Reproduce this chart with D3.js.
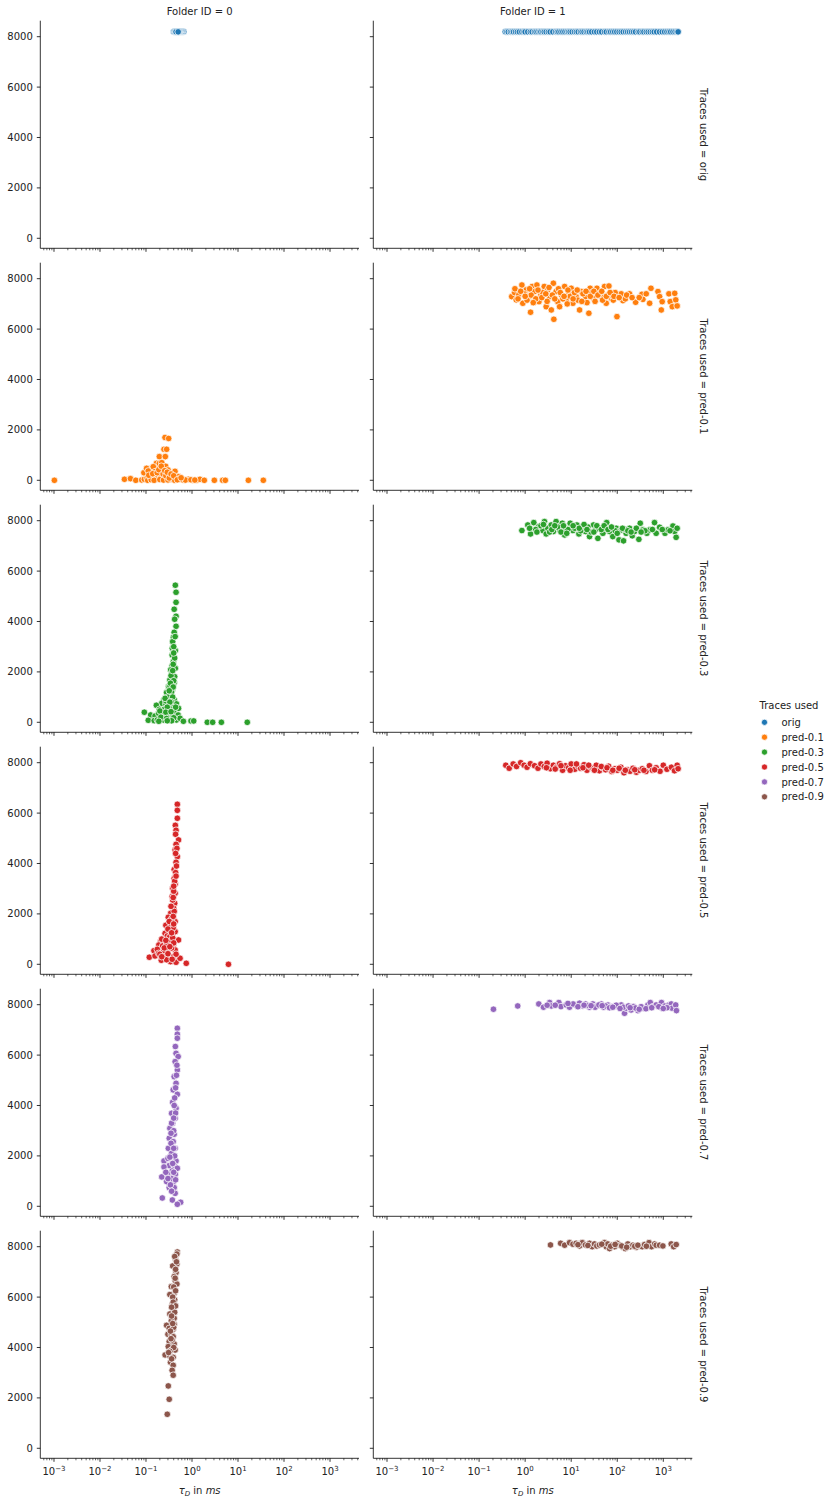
<!DOCTYPE html>
<html><head><meta charset="utf-8">
<script src="https://cdn.jsdelivr.net/npm/d3@7"></script>
<style>body{margin:0;background:#fff}text{font-family:"DejaVu Sans",sans-serif}</style>
</head><body>
<script>
// ---------- data ----------
const folders = ["0", "1"];
const traces = ["orig", "pred-0.1", "pred-0.3", "pred-0.5", "pred-0.7", "pred-0.9"];
const colors = ["#1f77b4", "#ff7f0e", "#2ca02c", "#d62728", "#9467bd", "#8c564b"];
const xTicks = [1e-3, 1e-2, 1e-1, 1, 10, 100, 1000];
const xTickExp = ["−3", "−2", "−1", "0", "1", "2", "3"];
const yTicks = [0, 2000, 4000, 6000, 8000];

// [tau_D in ms, value]
const orig_f0 = [[0.40,8192],[0.66,8192],[0.42,8192],[0.62,8192],[0.44,8192],[0.59,8192],[0.46,8192],[0.56,8192],[0.47,8192],[0.54,8192],[0.53,8192],[0.49,8192],[0.45,8192],[0.51,8192],[0.50,8192]];
const orig_f1 = [[0.37,8192],[0.40,8192],[0.43,8192],[0.48,8192],[0.52,8192],[0.56,8192],[0.62,8192],[0.68,8192],[0.75,8192],[0.85,8192],[0.94,8192],[1.0,8192],[1.14,8192],[1.3,8192],[1.42,8192],[1.6,8192],[1.73,8192],[1.9,8192],[2.08,8192],[2.2,8192],[2.42,8192],[2.6,8192],[2.86,8192],[3.2,8192],[3.5,8192],[4.0,8192],[4.6,8192],[5.0,8192],[5.4,8192],[6.0,8192],[6.6,8192],[7.3,8192],[8.1,8192],[8.8,8192],[9.5,8192],[10.5,8192],[11.8,8192],[13,8192],[14.2,8192],[16,8192],[17.3,8192],[19,8192],[21.2,8192],[23,8192],[25,8192],[28,8192],[32,8192],[36,8192],[41,8192],[46,8192],[53,8192],[58,8192],[66,8192],[72,8192],[80,8192],[88,8192],[98,8192],[110,8192],[122,8192],[135,8192],[152,8192],[168,8192],[185,8192],[205,8192],[226,8192],[250,8192],[286,8192],[310,8192],[349,8192],[380,8192],[427,8192],[470,8192],[522,8192],[580,8192],[637,8192],[720,8192],[832,8192],[950,8192],[1069,8192],[1200,8192],[1328,8192],[1450,8192],[1622,8192],[1800,8192],[1982,8192],[2100,8192]];
const pred01_f0 = [[0.00102,0],[0.034,40],[0.046,66],[0.060,0],[0.081,13],[0.092,40],[0.105,80],[0.109,0],[0.122,145],[0.133,475],[0.146,540],[0.16,340],[0.17,53],[0.168,670],[0.18,475],[0.195,940],[0.195,670],[0.22,700],[0.21,145],[0.23,475],[0.246,1230],[0.25,277],[0.259,1700],[0.263,940],[0.268,555],[0.281,1230],[0.28,53],[0.301,410],[0.311,1660],[0.333,210],[0.36,40],[0.427,356],[0.45,80],[0.513,145],[0.55,40],[0.67,0],[0.83,40],[1.03,0],[1.26,0],[1.49,40],[1.85,0],[3.06,0],[4.64,0],[5.3,0],[16.8,0],[35.5,0],[0.09,300],[0.103,475],[0.112,370],[0.144,540],[0.157,343],[0.13,20],[0.15,0],[0.2,30],[0.24,10],[0.3,15],[0.38,100],[0.42,0],[0.62,20],[0.72,10],
  [0.115,200],[0.14,260],[0.175,300],[0.19,420],[0.215,560],[0.235,250],[0.255,380],[0.27,180],[0.29,320],[0.32,90],[0.35,250],[0.4,180],[0.48,20],[0.58,100],[0.95,20],[1.15,10]];
const pred01_f1 = [[0.51,7290],[0.59,7450],[0.64,7160],[0.73,7360],[0.85,7750],[0.89,7025],[1.05,7555],[1.2,7290],[1.31,6670],[1.42,7690],[1.6,7490],[1.8,7750],[2.0,7090],[2.2,7360],[2.6,7690],[2.86,6890],[3.1,7555],[3.4,7290],[3.7,6760],[4.1,7820],[4.2,6390],[4.7,7490],[5.1,7090],[5.6,6890],[6.1,7360],[7.2,7690],[7.8,7160],[8.9,7420],[10.0,7620],[10.9,7025],[12.8,7290],[15.2,6760],[16.5,7490],[20.4,7290],[24.2,6630],[25.8,7620],[30.5,7225],[36.2,7620],[44.8,7290],[53,7690],[57.6,7025],[66,7710],[74,7225],[98.6,6495],[100,7360],[122,7400],[133,7130],[185,7400],[251,7065],[343,7380],[361,7180],[426,7400],[505,7025],[540,7620],[766,7490],[832,7290],[905,6760],[946,7090],[1325,7400],[1415,7090],[1567,6890],[1770,7420],[1866,7160],[2000,6920],
  [0.7,7200],[0.95,7400],[1.1,7150],[1.35,7350],[1.7,7200],[2.4,7450],[3.0,7100],[3.9,7350],[5.3,7600],[6.6,7200],[8.2,7000],[9.5,7300],[11.8,7450],[14,7150],[18,7400],[22,7050],[28,7450],[33,7100],[40,7400],[48,7150],[62,7350],[82,7150],[90,7450],[150,7200],
  [0.6,7600],[0.8,7500],[1.0,7300],[1.25,7600],[1.5,7050],[1.9,7550],[2.3,7250],[2.8,7400],[3.3,7650],[4.4,7200],[5.8,7450],[7.0,7300],[8.5,7550],[11,7200],[13.5,7550],[17,7100],[21,7500],[26,7300],[31,7500],[38,7350],[46,7500],[58,7300],[70,7450],[85,7300],[110,7250],[160,7350],[210,7250],[300,7250]];
const pred03_f0 = [[0.434,5440],[0.45,5160],[0.45,4760],[0.41,4485],[0.45,4210],[0.42,4090],[0.45,3810],[0.41,3570],[0.394,3375],[0.38,3200],[0.373,2940],[0.434,2845],[0.37,2670],[0.394,2420],[0.37,2250],[0.344,2080],[0.434,2140],[0.36,1945],[0.42,1810],[0.33,1680],[0.41,1575],[0.31,1415],[0.38,1310],[0.28,1180],[0.344,1125],[0.246,890],[0.31,910],[0.41,890],[0.22,755],[0.27,730],[0.36,690],[0.46,730],[0.168,675],[0.195,515],[0.25,515],[0.32,555],[0.41,385],[0.51,555],[0.092,400],[0.126,290],[0.157,250],[0.188,355],[0.24,355],[0.3,250],[0.38,225],[0.5,290],[0.112,80],[0.151,66],[0.176,93],[0.24,93],[0.33,120],[0.46,93],[0.55,160],[0.65,40],[0.95,53],[1.09,53],[2.15,0],[2.81,0],[4.35,0],[15.9,0],
  [0.4,3000],[0.42,2550],[0.39,2300],[0.35,1850],[0.4,1650],[0.33,1450],[0.36,1200],[0.3,1000],[0.38,1000],[0.27,850],[0.35,820],
  [0.43,3400],[0.4,2750],[0.38,2050],[0.34,1550],[0.39,1400],[0.32,1250],[0.26,950],[0.33,800],[0.29,600],[0.44,600],[0.2,450],[0.27,400],[0.35,420],[0.21,200],[0.28,150],[0.4,180],[0.36,60],[0.19,40],[0.29,60]];
const pred03_f1 = [[0.85,7610],[1.14,7830],[1.31,7475],[1.54,7925],[1.98,7765],[2.42,7610],[2.63,7965],[2.86,7475],[3.1,7700],[3.68,7830],[4.1,7570],[4.7,7965],[5.6,7634],[6.4,7900],[7.2,7435],[7.5,7700],[9.5,7900],[10.9,7610],[13.3,7830],[14.7,7475],[17.9,7765],[20.4,7570],[25,7370],[30.5,7830],[38,7300],[41,7700],[48.8,7500],[59,7925],[68,7570],[80,7370],[95,7700],[109,7240],[122,7634],[137,7200],[156,7500],[185,7700],[212,7400],[237,7570],[295,7260],[316,7900],[361,7634],[440,7500],[505,7634],[645,7925],[700,7500],[832,7740],[1090,7500],[1260,7634],[1620,7790],[1770,7570],[1900,7340],[2000,7700],
  [1.7,7650],[2.2,7800],[3.4,7550],[5.1,7750],[6.0,7550],[8.5,7650],[12,7700],[16,7600],[23,7750],[27,7550],[34,7650],[55,7700],[90,7600],[150,7650],[260,7700],[400,7600],[580,7650],[950,7650],[1400,7600],
  [1.25,7700],[1.8,7550],[2.5,7850],[3.8,7650],[4.4,7800],[6.8,7800],[8.0,7500],[11,7800],[15,7700],[19,7850],[22,7650],[31,7550],[36,7800],[45,7650],[52,7800],[63,7650],[75,7750],[100,7500],[130,7700],[170,7600],[200,7550],[330,7550]];
const pred05_f0 = [[0.48,6350],[0.48,6110],[0.48,5795],[0.434,5515],[0.45,5320],[0.44,5160],[0.51,4935],[0.45,4760],[0.43,4540],[0.48,4270],[0.45,4050],[0.41,3760],[0.44,3640],[0.41,3410],[0.43,3190],[0.38,3015],[0.43,2820],[0.37,2685],[0.42,2420],[0.40,2220],[0.344,2025],[0.305,1865],[0.43,1695],[0.27,1550],[0.355,1550],[0.26,1230],[0.344,1335],[0.43,1295],[0.29,1125],[0.208,900],[0.32,885],[0.46,965],[0.51,965],[0.19,765],[0.23,728],[0.3,540],[0.39,728],[0.149,540],[0.176,595],[0.24,515],[0.43,570],[0.118,280],[0.157,330],[0.188,435],[0.215,160],[0.26,305],[0.33,280],[0.34,105],[0.45,80],[0.55,240],[0.75,40],[6.2,0],
  [0.46,3900],[0.42,3300],[0.4,2900],[0.38,2550],[0.41,2100],[0.36,1800],[0.39,1450],[0.33,1100],[0.38,1050],[0.28,800],[0.36,650],[0.2,400],[0.28,180],[0.39,300],
  [0.47,4600],[0.44,4400],[0.45,3500],[0.4,3100],[0.39,2650],[0.35,2300],[0.39,1900],[0.32,1700],[0.4,1600],[0.3,1400],[0.36,1250],[0.22,1000],[0.27,950],[0.4,850],[0.25,650],[0.33,700],[0.45,400],[0.22,300],[0.3,420],[0.37,200]];
const pred05_f1 = [[0.38,7900],[0.45,7780],[0.55,7950],[0.65,7850],[0.8,8000],[0.95,7900],[1.1,7820],[1.3,7960],[1.6,7880],[1.9,7780],[2.2,7950],[2.6,7850],[3.0,7980],[3.5,7760],[4.1,7900],[4.8,7820],[5.6,7960],[6.5,7700],[7.5,7880],[8.8,7800],[10,7950],[12,7740],[14,7860],[16,7780],[19,7920],[22,7700],[26,7830],[30,7760],[35,7900],[41,7680],[48,7800],[56,7720],[65,7860],[76,7650],[88,7760],[100,7700],[120,7820],[140,7600],[165,7720],[190,7660],[220,7780],[260,7620],[300,7700],[350,7760],[420,7650],[500,7880],[580,7700],[700,7800],[850,7660],[1000,7900],[1200,7740],[1500,7820],[1750,7680],[2000,7900],[2100,7760],
  [2.9,7800],[4.5,7750],[6.0,7880],[9.5,7700],[13,7950],[18,7800],[24,7900],[32,7700],[45,7850],[60,7800],[80,7700],[110,7780],[150,7700],[240,7720],[380,7700],[650,7720]];
const pred07_f0 = [[0.48,7065],[0.48,6830],[0.48,6670],[0.435,6340],[0.45,6070],[0.5,5940],[0.43,5740],[0.48,5410],[0.41,5145],[0.45,4880],[0.39,4620],[0.48,4445],[0.38,4130],[0.45,3890],[0.36,3690],[0.43,3490],[0.38,3295],[0.33,3095],[0.41,2860],[0.32,2700],[0.39,2565],[0.306,2300],[0.43,2300],[0.36,2100],[0.246,1800],[0.45,1800],[0.32,1615],[0.246,1560],[0.41,1615],[0.48,1510],[0.22,1165],[0.32,1245],[0.435,1270],[0.28,980],[0.39,950],[0.32,740],[0.41,740],[0.43,515],[0.226,330],[0.374,250],[0.567,160],[0.48,80],
  [0.46,5200],[0.42,4300],[0.44,3700],[0.36,3300],[0.4,3000],[0.35,2500],[0.42,2000],[0.3,1900],[0.37,1400],[0.29,1300],[0.36,1100],[0.34,850],
  [0.47,5600],[0.44,4700],[0.41,4000],[0.4,3500],[0.35,2900],[0.4,2300],[0.33,1950],[0.38,1700],[0.27,1350],[0.4,1350],[0.3,1100],[0.44,1050],[0.36,600]];
const pred07_f1 = [[0.205,7820],[0.69,7950],[1.98,8030],[2.5,7900],[3.4,8085],[3.7,7950],[5.4,8085],[6.0,7925],[7.8,7990],[9.2,7900],[12.4,7990],[15.2,8060],[17.9,7950],[20.4,8030],[25,7900],[29.5,8030],[36,7950],[44.8,8030],[50.5,7900],[62.6,7990],[74,7925],[87.5,7950],[109,7900],[122,7990],[144,7660],[156,7860],[200,7790],[225,7925],[281,7765],[373,7860],[464,7990],[522,8085],[596,7925],[700,7990],[915,8085],[946,7860],[1090,7950],[1325,7990],[1490,8030],[1560,7860],[1860,7990],[1930,7765],
  [4.5,7980],[11,8030],[14,7920],[23,7970],[33,7900],[40,7990],[56,7950],[68,7880],[95,7980],[135,7900],[175,7950],[250,7870],[330,7920],[420,7840],[800,7920],[1200,7880],
  [3.0,7980],[8.5,8050],[19,7980],[27,7960],[47,7960],[80,7900],[115,7850],[190,7880],[300,7820],[560,7880],[1000,7850]];
const pred09_f0 = [[0.48,7790],[0.47,7710],[0.44,7500],[0.42,7610],[0.47,7315],[0.38,7235],[0.45,6970],[0.41,6815],[0.43,6655],[0.355,6415],[0.47,6520],[0.41,6150],[0.33,6100],[0.42,5890],[0.37,5690],[0.39,5515],[0.33,5330],[0.41,5160],[0.355,5055],[0.28,4880],[0.41,4920],[0.32,4760],[0.39,4725],[0.3,4525],[0.355,4500],[0.39,4430],[0.32,4235],[0.41,4140],[0.305,4035],[0.36,3900],[0.43,3900],[0.26,3705],[0.33,3665],[0.39,3610],[0.34,3415],[0.39,3295],[0.37,3095],[0.39,2900],[0.305,2475],[0.32,1945],[0.29,1350],
  [0.44,7100],[0.4,6400],[0.44,6250],[0.38,6000],[0.42,5400],[0.36,5250],[0.4,4800],[0.34,4650],[0.37,4300],[0.4,4000],[0.33,3850],
  [0.46,7400],[0.43,6750],[0.39,5800],[0.44,5650],[0.36,5600],[0.38,4950],[0.35,4350],[0.31,3800],[0.36,3550]];
const pred09_f1 = [[3.55,8070],[5.9,8135],[7.2,8060],[9.2,8160],[10.9,8100],[12.8,8135],[15.2,8030],[17.4,8160],[20.4,8070],[25,8135],[28.6,8000],[32,8110],[36,8030],[41,8070],[53,8160],[57.6,8000],[62.6,8110],[68,7925],[78,8070],[87.5,8000],[100,8135],[116,8060],[133,7975],[149,7925],[170,8110],[192,8000],[219,8060],[259,7975],[305,8030],[349,8000],[392,8085],[490,8160],[556,8000],[650,8110],[700,8060],[832,8060],[980,8030],[1485,8110],[1680,8000],[1910,8085],
  [14,8080],[23,8050],[46,8100],[72,8020],[90,8090],[125,8030],[160,7980],[240,8020],[280,8060],[430,8020]];

const panels = [
  [orig_f0, orig_f1],
  [pred01_f0, pred01_f1],
  [pred03_f0, pred03_f1],
  [pred05_f0, pred05_f1],
  [pred07_f0, pred07_f1],
  [pred09_f0, pred09_f1]
];

// ---------- layout ----------
const W = 832, H = 1504;
const colX = [[40.3, 359], [373.3, 692.3]];
const rowTop0 = 20.7, rowStep = 242, rowH = 227.6;
const xDomain = [5.04e-4, 4266];
const yDomain = [-397, 8635];
const txt = "#222";

const svg = d3.select("body").append("svg").attr("width", W).attr("height", H);

function minorTicks() {
  const out = [];
  for (let e = -4; e <= 3; e++) for (let m = 2; m <= 9; m++) {
    const v = m * Math.pow(10, e);
    if (v >= xDomain[0] && v <= xDomain[1]) out.push(v);
  }
  return out;
}
const minors = minorTicks();

traces.forEach((tr, r) => {
  const top = rowTop0 + r * rowStep, bottom = top + rowH;
  const y = d3.scaleLinear().domain(yDomain).range([bottom, top]);
  folders.forEach((f, c) => {
    const [x0, x1] = colX[c];
    const x = d3.scaleLog().domain(xDomain).range([x0, x1]);
    const g = svg.append("g");
    // points
    g.append("g").selectAll("circle").data(panels[r][c]).join("circle")
      .attr("cx", d => x(d[0])).attr("cy", d => y(d[1])).attr("r", 3.3)
      .attr("fill", colors[r]).attr("stroke", "#fff").attr("stroke-width", 0.75);
    // spines
    g.append("line").attr("x1", x0).attr("x2", x0).attr("y1", top).attr("y2", bottom)
      .attr("stroke", "#000").attr("stroke-width", 0.8);
    g.append("line").attr("x1", x0).attr("x2", x1).attr("y1", bottom).attr("y2", bottom)
      .attr("stroke", "#000").attr("stroke-width", 0.8);
    // y ticks
    yTicks.forEach(t => {
      g.append("line").attr("x1", x0 - 3.5).attr("x2", x0).attr("y1", y(t)).attr("y2", y(t))
        .attr("stroke", "#000").attr("stroke-width", 0.8);
      if (c === 0) g.append("text").attr("x", x0 - 7.5).attr("y", y(t) + 3.6)
        .attr("text-anchor", "end").attr("font-size", 10).attr("fill", txt).text(t);
    });
    // x ticks
    xTicks.forEach((t, i) => {
      g.append("line").attr("x1", x(t)).attr("x2", x(t)).attr("y1", bottom).attr("y2", bottom + 3.5)
        .attr("stroke", "#000").attr("stroke-width", 0.8);
      if (r === traces.length - 1) {
        const tx = g.append("text").attr("x", x(t)).attr("y", bottom + 17)
          .attr("text-anchor", "middle").attr("font-size", 10).attr("fill", txt);
        tx.append("tspan").text("10");
        tx.append("tspan").attr("dy", -4.5).attr("font-size", 7).text(xTickExp[i]);
      }
    });
    minors.forEach(t => {
      g.append("line").attr("x1", x(t)).attr("x2", x(t)).attr("y1", bottom).attr("y2", bottom + 2)
        .attr("stroke", "#000").attr("stroke-width", 0.6);
    });
    // titles
    if (r === 0) svg.append("text").attr("x", (x0 + x1) / 2).attr("y", 15)
      .attr("text-anchor", "middle").attr("font-size", 10).attr("fill", txt).text("Folder ID = " + f);
    if (r === traces.length - 1) {
      const xl = svg.append("text").attr("x", (x0 + x1) / 2).attr("y", bottom + 36)
        .attr("text-anchor", "middle").attr("font-size", 10).attr("fill", txt);
      xl.append("tspan").attr("font-style", "italic").text("τ");
      xl.append("tspan").attr("font-style", "italic").attr("font-size", 7).attr("dy", 1.5).text("D");
      xl.append("tspan").attr("dy", -1.5).text(" in ");
      xl.append("tspan").attr("font-style", "italic").text("ms");
    }
    if (c === 1) svg.append("text").attr("transform", `translate(699.5,${(top + bottom) / 2}) rotate(90)`)
      .attr("text-anchor", "middle").attr("font-size", 10).attr("fill", txt).text("Traces used = " + tr);
  });
});

// legend
const lg = svg.append("g");
lg.append("text").attr("x", 759.5).attr("y", 709).attr("font-size", 10).attr("fill", txt).text("Traces used");
traces.forEach((tr, i) => {
  const yy = 722.3 + i * 14.9;
  lg.append("circle").attr("cx", 764.5).attr("cy", yy).attr("r", 3.1)
    .attr("fill", colors[i]).attr("stroke", "#fff").attr("stroke-width", 0.75);
  lg.append("text").attr("x", 781.5).attr("y", yy + 3.6).attr("font-size", 10).attr("fill", txt).text(tr);
});
</script>
</body></html>
